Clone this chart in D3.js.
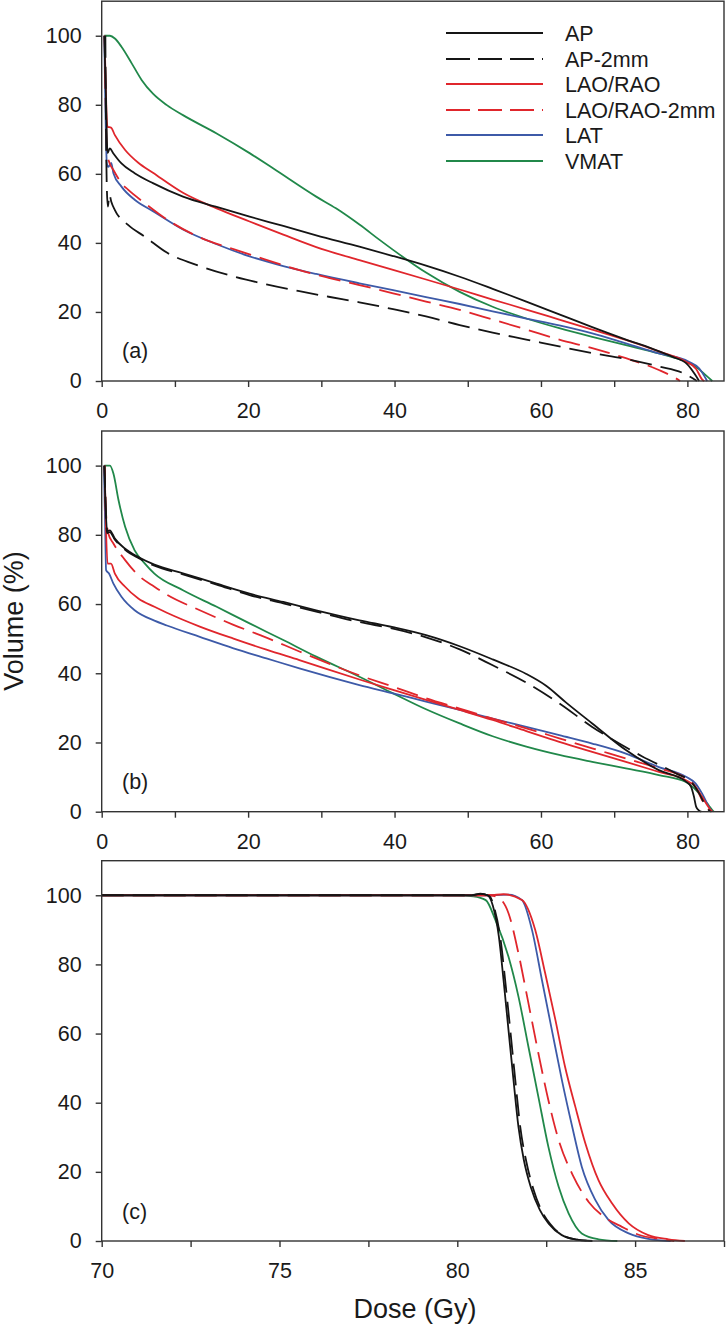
<!DOCTYPE html>
<html><head><meta charset="utf-8">
<script src="https://cdn.jsdelivr.net/npm/d3@7"></script>
<style>
body{margin:0;background:#fff;}
text{font-family:"Liberation Sans",Arial,sans-serif;fill:#1a1a1a;}
</style></head>
<body>
<svg id="chart" width="727" height="1333"></svg>
<script>
// ---------- data ----------
const seriesNames = ["AP","AP-2mm","LAO/RAO","LAO/RAO-2mm","LAT","VMAT"];
const seriesColors = ["#151515","#151515","#e0262c","#e0262c","#3d5aa8","#21884a"];
const seriesDashed = [false,true,false,true,false,false];
const panelLabels = ["(a)","(b)","(c)"];
const xTicksAB = [0,20,40,60,80];
const xMinorAB = [10,30,50,70];
const xTicksC = [70,75,80,85];
const xMinorC = [72.5,77.5,82.5,87.5];
const yTicks = [0,20,40,60,80,100];

// panel (a)  [dose, volume]
const aAP = [[0.35,100],[0.55,85],[0.8,66],[1.1,67.4],[1.6,65.9],[2.7,63],[4.5,60.2],[7,57.3],[11.1,53.4],[15.7,50.4],[20.2,47.6],[24.8,44.9],[29.3,42.2],[35.2,38.9],[39.8,36.2],[44.3,33.4],[48.9,30.2],[53.4,26.7],[58,23],[62.5,19.3],[67,15.6],[71.6,12],[75,9.5],[78,7],[80,4.8],[81,2],[81.6,0]];
const aAP2 = [[0.5,100],[0.6,70],[0.7,56],[0.85,50.5],[1.05,54],[1.3,52],[1.8,49.5],[3.6,45.2],[5.9,41.8],[8.9,37.2],[13.4,33.3],[18,30.3],[22.5,28],[27,26],[31,24.4],[35.2,22.8],[39.8,20.8],[44.3,18.7],[48.9,16.2],[53.4,14],[58,12],[62.5,10],[67,8.1],[71.6,6.4],[76.1,4.2],[79.5,2.2],[81.3,0]];
const aLAO = [[0.4,100],[0.5,90],[0.65,78],[0.8,73.6],[1.27,73.4],[1.8,71.2],[3.2,66.9],[5,63.2],[7,60.3],[11.1,54.5],[15.7,50],[20.2,46.2],[24.8,42.4],[29.3,38.8],[35.2,35],[39.8,32.2],[44.3,29.4],[48.9,26.5],[53.4,23.6],[58,20.7],[62.5,17.8],[67,14.9],[71.6,11.9],[76.1,8.6],[79.8,5.6],[81.2,3.5],[82,0.5],[82.3,0]];
const aLAO2 = [[0.4,100],[0.55,80],[0.75,66],[1.1,63],[1.6,61.1],[2.7,57.3],[3.6,55.4],[5.9,51.5],[8.9,46.8],[13.4,41.6],[18,38.2],[22.5,35.1],[27,32.1],[31,29.9],[35.2,27.8],[39.8,25.4],[44.3,23],[48.9,20.6],[53.4,17.8],[58,14.9],[62.5,12],[67,9.5],[71.6,6.6],[76.1,3.2],[78.4,0.8],[79,0]];
const aLAT = [[0.35,100],[0.5,80],[0.7,63],[0.9,62],[1.3,63.2],[1.6,60.2],[2.7,56.3],[4.5,52.5],[7,49.2],[11.1,43.9],[15.7,39.6],[20.2,36.1],[24.8,33.3],[29.3,31],[35.2,28.3],[39.8,26.3],[44.3,24.3],[48.9,22.3],[53.4,20.2],[58,18.1],[62.5,16.1],[67,13.8],[71.6,10.9],[76.1,8],[80.2,5.6],[81.6,3.7],[82.7,0]];
const aVMAT = [[0.36,100],[1.13,100],[1.8,99.2],[2.7,96.8],[4.1,92],[5.45,87.2],[7,83.2],[8.9,79.9],[11.1,77],[15.7,71.7],[20.2,66],[23.4,61.6],[29.3,53.4],[32,50],[35.2,45.3],[38,40.8],[41.1,36],[44.3,31.4],[48.9,25.8],[53.4,21.5],[58,18.1],[62.5,15.3],[67,12.8],[71.6,10.4],[76.1,8],[79.8,5.6],[81.1,4.2],[82.5,1.7],[83.4,0]];

// panel (b)
const bAP = [[0.35,100],[0.5,90],[0.75,81],[1.1,81.3],[1.8,78.9],[3.2,76],[5,73.6],[7.2,71.4],[11.1,68.9],[15.7,65.9],[20.2,63],[24.8,60.6],[29.3,58.2],[35.2,55.3],[39.8,53.3],[44.3,51],[48.9,47.8],[53.4,44],[58,39.8],[60.7,36.4],[63.4,31.6],[67,25.5],[71.6,17.8],[76.1,12],[79.8,8.7],[80.5,7.2],[80.9,4.3],[81.2,1.4],[81.6,0.3],[81.9,0]];
const bAP2 = [[0.4,100],[0.55,88],[0.75,80.5],[1.1,80.8],[1.8,78.6],[3.2,75.7],[5,73.3],[7.2,71.1],[11.1,68.6],[15.7,65.6],[20.2,62.6],[24.8,60.2],[29.3,57.8],[35.2,54.8],[39.8,52.9],[44.3,50.4],[48.9,46.9],[53.4,42.3],[58,37.3],[62.5,31.3],[67,24.5],[70.7,19.7],[73.9,15.9],[78.4,11.1],[80.7,8.2],[81.6,5.3],[82.3,2.5],[83,0.3],[83.2,0]];
const bLAO = [[0.4,100],[0.55,85],[0.8,71.7],[1.27,71.7],[1.8,68.8],[3.2,65],[5,61.6],[7.2,59.2],[8.9,57.5],[13.4,53.5],[18,50],[22.5,46.8],[27,43.8],[35.2,38.2],[39.8,35.2],[44.3,32.3],[48.9,29.4],[53.4,26.5],[58,23.3],[62.5,20.2],[67,17.3],[71.6,14.4],[76.1,11.5],[79.8,9.1],[81.1,7.2],[82,4.3],[83,1],[83.4,0]];
const bLAO2 = [[0.4,100],[0.55,88],[0.9,80.4],[1.6,77.5],[3.2,72.7],[5,68.3],[7.2,65],[8.9,62.7],[13.4,58.2],[18,54],[22.5,50.3],[27,46.3],[35.2,39.4],[39.8,36.1],[44.3,32.8],[48.9,29.8],[53.4,26.9],[58,24.1],[62.5,21.2],[67,18.3],[71.6,15.4],[76.1,12.5],[79.8,9.6],[81.1,7.2],[82,3.4],[83,0.5],[83.3,0]];
const bLAT = [[0.3,100],[0.45,85],[0.6,69.8],[1,68.8],[1.6,65.9],[2.7,62.1],[4.5,58.2],[7.2,55.2],[8.9,53.8],[13.4,50.5],[18,47.2],[22.5,44.3],[27,41.4],[35.2,36.6],[39.8,34.2],[44.3,31.8],[48.9,29.4],[53.4,26.9],[58,24.5],[62.5,22.1],[67,19.7],[71.6,16.8],[76.1,12.9],[79.8,10.1],[81.1,8.2],[82,5.3],[83.2,0.5],[83.4,0]];
const bVMAT = [[0.36,100],[1.13,100],[1.6,97.7],[2.3,90],[3.2,82.3],[4.5,75.5],[5.9,71.7],[7.2,68.8],[11.1,64],[15.7,59.2],[20.2,54.4],[24.8,49.6],[29.3,44.8],[35.2,39],[39.8,34.2],[44.3,29.6],[48.9,25.5],[53.4,21.8],[58,18.8],[62.5,16.4],[67,14.4],[71.6,12.5],[76.1,10.6],[79.8,8.6],[81.6,5.3],[82.7,2.4],[83.4,0.5],[83.6,0]];

// panel (c)
const cAP = [[70,100],[80.4,100],[80.65,100.5],[80.85,100],[81,97],[81.17,88],[81.3,75.5],[81.44,61],[81.58,46.6],[81.72,33],[81.87,23.5],[82.07,15.5],[82.32,9],[82.57,5],[82.94,1.7],[83.37,0.4],[83.8,0]];
const cAP2 = [[70,100],[80.4,100],[80.65,100.4],[80.9,99.8],[81.05,96],[81.22,87],[81.35,75],[81.49,61],[81.63,46.6],[81.77,33],[81.94,23],[82.14,15],[82.37,8.8],[82.62,4.8],[82.97,1.6],[83.37,0.4],[83.8,0]];
const cLAO = [[70,100],[80.9,100],[81.3,100.3],[81.82,98.6],[82.19,90],[82.47,77.5],[82.76,63.9],[83.03,50.4],[83.32,38.8],[83.6,28.3],[83.97,17.6],[84.35,10.9],[84.82,5.1],[85.37,1.7],[85.94,0.5],[86.4,0]];
const cLAO2 = [[70,100],[80.9,100],[81.17,99.2],[81.44,94.8],[81.72,83.2],[82,68.8],[82.28,54.3],[82.56,40.8],[82.85,29.2],[83.25,19],[83.7,11.2],[84.2,6.5],[84.63,4.1],[85.1,1.8],[85.77,0.5],[86.1,0]];
const cLAT = [[70,100],[81,100],[81.44,100.2],[81.82,98.6],[82.1,90],[82.38,75.5],[82.66,61],[82.94,46.6],[83.23,33.1],[83.5,21.5],[83.88,11.9],[84.25,6.1],[84.82,2.2],[85.37,0.6],[86,0]];
const cVMAT = [[70,100],[80,100],[80.45,99.7],[80.8,98.6],[81.07,92.9],[81.44,82.2],[81.72,70.7],[82,56.2],[82.28,41.7],[82.56,27.3],[82.85,15.7],[83.13,8],[83.5,2.2],[83.97,0.5],[84.5,0]];

// ---------- drawing ----------
const svg = d3.select("#chart");
const left = 101.7, right = 724;
const panels = [
  {top: 1.2, bottom: 381, xdom:[0,85], ticks:xTicksAB, minor:xMinorAB, data:[aAP,aAP2,aLAO,aLAO2,aLAT,aVMAT], label:panelLabels[0], labelY:357.5, legend:true},
  {top: 431, bottom: 811.7, xdom:[0,85], ticks:xTicksAB, minor:xMinorAB, data:[bAP,bAP2,bLAO,bLAO2,bLAT,bVMAT], label:panelLabels[1], labelY:788.5},
  {top: 860.7, bottom: 1241, xdom:[70,87.5], ticks:xTicksC, minor:xMinorC, data:[cAP,cAP2,cLAO,cLAO2,cLAT,cVMAT], label:panelLabels[2], labelY:1218.5}
];
const fs = 21.5;

panels.forEach(p => {
  const x = d3.scaleLinear().domain(p.xdom).range([left,right]);
  const y = d3.scaleLinear().domain([0,110]).range([p.bottom,p.top]);
  const g = svg.append("g");

  const clipId = "clip" + p.label.replace(/[()]/g,"");
  svg.append("clipPath").attr("id",clipId).append("rect")
    .attr("x",left).attr("y",p.top).attr("width",right-left).attr("height",p.bottom-p.top+1);

  const line = d3.line().x(d=>x(d[0])).y(d=>y(d[1])).curve(d3.curveMonotoneX);
  const lg = g.append("g").attr("clip-path","url(#"+clipId+")");
  [5,4,3,2,1,0].forEach(i => {
    lg.append("path").attr("d", line(p.data[i]))
      .attr("fill","none").attr("stroke",seriesColors[i])
      .attr("stroke-width",1.8)
      .attr("stroke-dasharray", seriesDashed[i] ? "22,9" : null)
      .attr("stroke-linejoin","round");
  });

  g.append("rect").attr("x",left).attr("y",p.top).attr("width",right-left).attr("height",p.bottom-p.top)
    .attr("fill","none").attr("stroke","#333").attr("stroke-width",1.4);

  const xa = g.append("g").attr("transform",`translate(0,${p.bottom})`)
    .call(d3.axisBottom(x).tickValues(p.ticks).tickSize(6).tickSizeOuter(0).tickPadding(16).tickFormat(d3.format("d")));
  xa.select(".domain").remove();
  xa.selectAll("line").attr("stroke","#333").attr("stroke-width",1.4);
  xa.selectAll("text").attr("font-size",fs).attr("fill","#1a1a1a").attr("font-family","Liberation Sans, Arial, sans-serif");
  const xm = g.append("g").attr("transform",`translate(0,${p.bottom})`)
    .call(d3.axisBottom(x).tickValues(p.minor).tickSize(6).tickSizeOuter(0).tickFormat(""));
  xm.select(".domain").remove();
  xm.selectAll("line").attr("stroke","#333").attr("stroke-width",1.4);

  const ya = g.append("g").attr("transform",`translate(${left},0)`)
    .call(d3.axisLeft(y).tickValues(yTicks).tickSize(6).tickSizeOuter(0).tickPadding(14));
  ya.select(".domain").remove();
  ya.selectAll("line").attr("stroke","#333").attr("stroke-width",1.4);
  ya.selectAll("text").attr("font-size",fs).attr("fill","#1a1a1a").attr("font-family","Liberation Sans, Arial, sans-serif");

  g.append("text").attr("x",122).attr("y",p.labelY).attr("font-size",fs).text(p.label);

  if (p.legend) {
    const rows = [33,59,84,110,135,161];
    seriesNames.forEach((n,i) => {
      g.append("line").attr("x1",446).attr("x2",543).attr("y1",rows[i]).attr("y2",rows[i])
        .attr("stroke",seriesColors[i]).attr("stroke-width",1.8)
        .attr("stroke-dasharray", seriesDashed[i] ? "24,8" : null);
      g.append("text").attr("x",565).attr("y",rows[i]+7.7).attr("font-size",fs).text(n);
    });
  }
});

svg.append("text").attr("transform","translate(23,621) rotate(-90)")
  .attr("text-anchor","middle").attr("font-size",27).text("Volume (%)");
svg.append("text").attr("x",415).attr("y",1318).attr("text-anchor","middle")
  .attr("font-size",27).text("Dose (Gy)");
</script>
</body></html>
